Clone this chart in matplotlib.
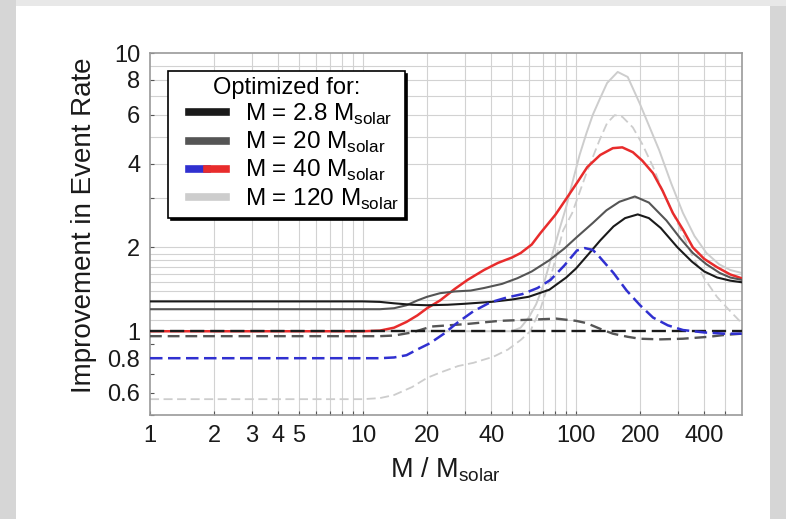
import matplotlib
matplotlib.use("Agg")
import matplotlib.pyplot as plt
from matplotlib.lines import Line2D
from matplotlib.legend_handler import HandlerTuple, HandlerLine2D
from matplotlib.patches import Rectangle
import numpy as np

plt.rcParams['font.family'] = ['Liberation Sans', 'DejaVu Sans']
plt.rcParams['mathtext.fontset'] = 'custom'
plt.rcParams['mathtext.rm'] = 'Liberation Sans'

# ---- data ----
m_black = [1, 5, 10, 12, 14, 17, 20, 25, 30, 40, 50, 60, 75, 90, 100, 115, 130, 150, 170, 195, 220, 250, 300, 350, 400, 460, 530, 600]
v_black = [1.28, 1.28, 1.28, 1.275, 1.26, 1.245, 1.24, 1.245, 1.255, 1.275, 1.30, 1.33, 1.41, 1.56, 1.68, 1.90, 2.12, 2.38, 2.55, 2.63, 2.55, 2.35, 2.00, 1.78, 1.64, 1.56, 1.52, 1.50]

m_gray = [1, 5, 10, 12, 14, 16, 18, 20, 23, 27, 32, 37, 45, 53, 62, 75, 88, 101, 120, 139, 160, 189, 220, 266, 310, 354, 410, 473, 530, 600]
v_gray = [1.20, 1.20, 1.20, 1.20, 1.21, 1.24, 1.29, 1.33, 1.37, 1.39, 1.40, 1.43, 1.48, 1.55, 1.64, 1.80, 1.98, 2.18, 2.45, 2.72, 2.92, 3.05, 2.90, 2.50, 2.15, 1.91, 1.74, 1.62, 1.56, 1.53]

m_red = [1, 5, 10, 12, 14, 16, 18, 20, 23, 27, 31, 37, 43, 50, 55, 62, 68, 80, 91, 102, 113, 130, 149, 165, 185, 205, 230, 255, 285, 320, 354, 400, 459, 530, 600]
v_red = [1.0, 1.0, 1.0, 1.005, 1.03, 1.08, 1.14, 1.21, 1.29, 1.42, 1.53, 1.66, 1.76, 1.84, 1.91, 2.05, 2.25, 2.62, 3.03, 3.45, 3.89, 4.30, 4.55, 4.58, 4.40, 4.10, 3.70, 3.20, 2.66, 2.30, 2.00, 1.82, 1.70, 1.60, 1.55]

m_lgray = [1, 10, 30, 50, 55, 60, 65, 70, 76, 84, 90, 96, 104, 112, 120, 129, 140, 157, 175, 199, 222, 246, 280, 318, 360, 410, 470, 530, 600]
v_lgray = [1.0, 1.0, 1.0, 1.0, 1.03, 1.12, 1.25, 1.45, 1.8, 2.35, 2.8, 3.4, 4.3, 5.15, 6.0, 6.8, 7.8, 8.55, 8.2, 6.6, 5.4, 4.47, 3.4, 2.66, 2.2, 1.91, 1.74, 1.66, 1.62]

m_black_d = [1, 600]
v_black_d = [1.0, 1.0]

m_gray_d = [1, 5, 10, 12, 14, 17, 21, 30, 44, 60, 81, 100, 112, 130, 149, 175, 199, 250, 318, 420, 500, 600]
v_gray_d = [0.96, 0.96, 0.96, 0.96, 0.965, 0.99, 1.04, 1.06, 1.09, 1.10, 1.11, 1.09, 1.07, 1.02, 0.98, 0.955, 0.94, 0.935, 0.94, 0.955, 0.97, 0.98]

m_blue_d = [1, 5, 10, 12, 14, 16, 18, 20.6, 24, 27.6, 33, 39.6, 47, 56, 66, 76, 88, 101, 110, 120, 129, 150, 173, 200, 230, 270, 318, 400, 500, 600]
v_blue_d = [0.80, 0.80, 0.80, 0.80, 0.805, 0.82, 0.86, 0.905, 0.98, 1.07, 1.18, 1.27, 1.32, 1.36, 1.43, 1.53, 1.72, 1.95, 1.99, 1.96, 1.85, 1.62, 1.40, 1.24, 1.12, 1.05, 1.01, 0.99, 0.98, 0.98]

m_lgray_d = [1, 5, 10, 12, 14, 17, 20, 23, 28, 33, 41, 48, 55, 61, 68, 76, 87, 96, 112, 129, 140, 152, 165, 185, 205, 230, 255, 285, 320, 354, 400, 459, 530, 600]
v_lgray_d = [0.57, 0.57, 0.57, 0.575, 0.59, 0.63, 0.68, 0.71, 0.75, 0.77, 0.81, 0.86, 0.93, 1.0, 1.2, 1.56, 2.3, 2.66, 3.7, 4.86, 5.6, 5.98, 5.9, 5.4, 4.7, 3.9, 3.2, 2.66, 2.2, 1.85, 1.55, 1.33, 1.18, 1.07]

x_ticks = [1, 2, 3, 4, 5, 10, 20, 40, 100, 200, 400]
x_ticklabels = ['1', '2', '3', '4', '5', '10', '20', '40', '100', '200', '400']
y_ticks = [0.6, 0.8, 1, 2, 4, 6, 8, 10]
y_ticklabels = ['0.6', '0.8', '1', '2', '4', '6', '8', '10']
legend_labels = [r'M = 2.8 M$_\mathregular{solar}$', r'M = 20 M$_\mathregular{solar}$',
                 r'M = 40 M$_\mathregular{solar}$', r'M = 120 M$_\mathregular{solar}$']

C_BLACK = '#1a1a1a'
C_GRAY = '#555555'
C_RED = '#e82c2c'
C_BLUE = '#3030d0'
C_LGRAY = '#cdcdcd'

fig = plt.figure(figsize=(7.86, 5.19), dpi=100)
fig.patch.set_facecolor('#d6d6d6')
# white slide area
fig.patches.append(Rectangle((16/786, 0), (770-16)/786, 1 - 6/519, transform=fig.transFigure,
                             facecolor='white', edgecolor='none', zorder=-5))
fig.patches.append(Rectangle((16/786, 1 - 6/519), 1, 6/519, transform=fig.transFigure,
                             facecolor='#e8e8e8', edgecolor='none', zorder=-5))

ax = fig.add_axes([150/786, 1 - 415/519, (741.7 - 150)/786, (415 - 53)/519])
ax.set_zorder(1)
ax.set_xscale('log')
ax.set_yscale('log')
ax.set_xlim(1, 600)
ax.set_ylim(0.5, 10)

# grid
xgrid = [k * 10**d for d in range(0, 3) for k in range(1, 10)]
for gx in xgrid:
    if 1 < gx < 600:
        ax.axvline(gx, color='#d2d2d2', lw=0.8, zorder=0)
ygrid = [1.1, 1.2, 1.3, 1.4, 1.5, 1.6, 1.7, 1.8, 1.9, 2, 3, 4, 5, 6, 7, 8, 9]
for gy in ygrid:
    ax.axhline(gy, color='#d2d2d2', lw=0.8, zorder=0)

# curves
ax.plot(m_lgray, v_lgray, color=C_LGRAY, lw=1.4, zorder=2)
ax.plot(m_lgray_d, v_lgray_d, color=C_LGRAY, lw=1.3, dashes=(5, 2.5), zorder=2)
ax.plot(m_red, v_red, color=C_RED, lw=1.8, zorder=3)
ax.plot(m_gray, v_gray, color=C_GRAY, lw=1.5, zorder=3)
ax.plot(m_black, v_black, color=C_BLACK, lw=1.5, zorder=3)
ax.plot(m_gray_d, v_gray_d, color=C_GRAY, lw=1.7, dashes=(5, 2.5), zorder=3)
ax.plot(m_black_d, v_black_d, color=C_BLACK, lw=1.7, dashes=(6, 2.5), zorder=4)
ax.plot(m_blue_d, v_blue_d, color=C_BLUE, lw=1.8, dashes=(5, 2.2), zorder=4)

ax.set_xticks(x_ticks)
ax.set_xticklabels(x_ticklabels)
ax.set_xticks([6, 7, 8, 9, 30, 50, 60, 70, 80, 90, 300, 500], minor=True)
ax.set_yticks(y_ticks)
ax.set_yticklabels(y_ticklabels)
ax.set_yticks([0.5, 0.7, 0.9, 3], minor=True)
ax.yaxis.set_minor_formatter(matplotlib.ticker.NullFormatter())
ax.xaxis.set_minor_formatter(matplotlib.ticker.NullFormatter())
ax.tick_params(which='both', direction='in', length=3, width=0.8, color='#555555',
               labelsize=17, pad=7, labelcolor='#1a1a1a')
for s in ax.spines.values():
    s.set_color('#9a9a9a')
    s.set_linewidth(1.2)

ax.set_xlabel(r'M / M$_\mathregular{solar}$', fontsize=19.5, labelpad=6, color='#1a1a1a')
ax.set_ylabel('Improvement in Event Rate', fontsize=20, labelpad=7.5, color='#1a1a1a')
ax.yaxis.label.set_y(0.523)

# legend
h1 = Line2D([], [], color=C_BLACK, lw=5.5)
h2 = Line2D([], [], color=C_GRAY, lw=5.5)
h3 = (Line2D([], [], color=C_BLUE, lw=5.5), Line2D([], [], color=C_RED, lw=5.5))
h4 = Line2D([], [], color=C_LGRAY, lw=5.5)
leg = ax.legend([h1, h2, h3, h4], legend_labels, title='Optimized for:',
                handler_map={tuple: HandlerTuple(ndivide=None, pad=0, xpad=0.6),
                             Line2D: HandlerLine2D(xpad=0.6)},
                loc='upper left', bbox_to_anchor=((168 - 150) / 591.7, (415 - 71) / 362),
                fontsize=17.5, title_fontsize=17, frameon=True, fancybox=False,
                shadow={'color': 'black', 'alpha': 1.0},
                handlelength=2.15, handletextpad=0.75, labelspacing=0.12,
                borderpad=0.25, borderaxespad=0)
leg.get_frame().set_edgecolor('black')
leg.get_frame().set_linewidth(1.2)
leg.set_zorder(10)

fig.savefig('out.png', dpi=100)
